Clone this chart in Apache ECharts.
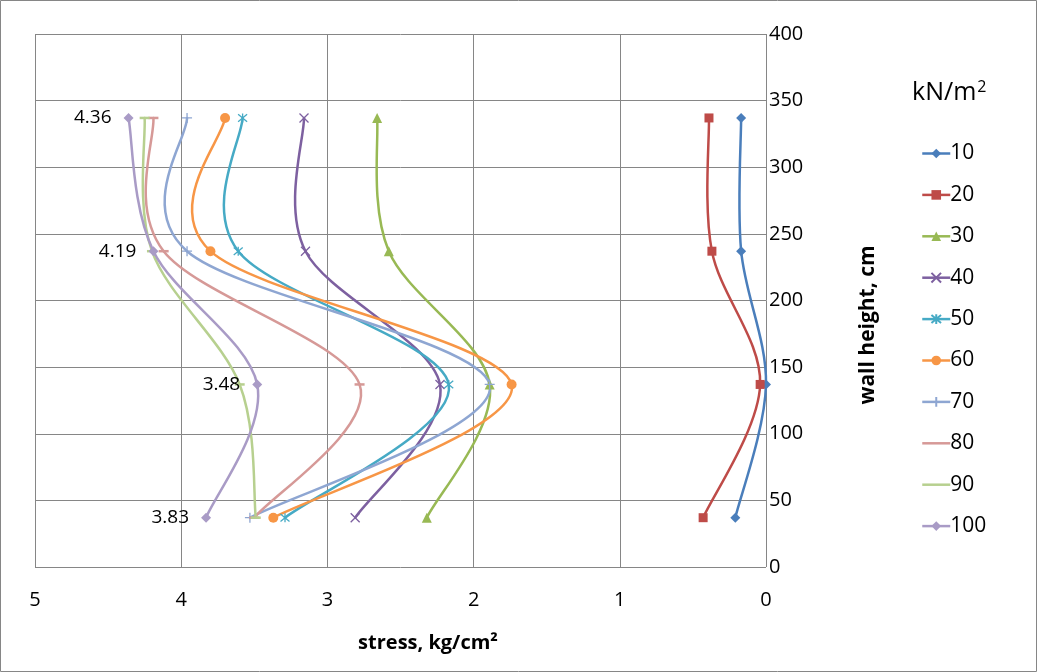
<!DOCTYPE html>
<html>
<head>
<meta charset="utf-8">
<script src="https://cdn.jsdelivr.net/npm/echarts@6/dist/echarts.min.js"></script>
<style>html,body{margin:0;padding:0;background:#fff}#c{width:1037px;height:672px}</style>
</head>
<body>
<div id="c"></div>
<script>
const heights = [37, 137, 237, 337];
const seriesNames = ['10','20','30','40','50','60','70','80','90','100'];
const s10 = [0.21, 0.0, 0.17, 0.17];
const s20 = [0.43, 0.04, 0.37, 0.39];
const s30 = [2.32, 1.89, 2.58, 2.66];
const s40 = [2.81, 2.23, 3.15, 3.16];
const s50 = [3.29, 2.17, 3.61, 3.58];
const s60 = [3.37, 1.74, 3.80, 3.70];
const s70 = [3.53, 1.89, 3.96, 3.96];
const s80 = [3.50, 2.78, 4.12, 4.19];
const s90 = [3.49, 3.60, 4.20, 4.25];
const s100 = [3.83, 3.48, 4.19, 4.36];
const xTicks = [0, 1, 2, 3, 4, 5];
const yTicks = [0, 50, 100, 150, 200, 250, 300, 350, 400];
const labelValues = ['3.83', '3.48', '4.19', '4.36'];

const allValues = [s10, s20, s30, s40, s50, s60, s70, s80, s90, s100];
const colors = ['#4A7EBB','#BE4B48','#98B954','#7D60A0','#46AAC5','#F79646','#8EA6D2','#D69997','#B7D08F','#A99BC6'];
const FONT = '"Open Sans", "Noto Sans", sans-serif';
const X_PATH = 'path://M0,0 L10,10 M10,0 L0,10';
const STAR_PATH = 'path://M0,0 L10,10 M10,0 L0,10 M5,-1 L5,11';
const PLUS_PATH = 'path://M5,0 L5,10 M0,5 L10,5';
const LINE_ICON = 'path://M0,0 L28,0 L28,2.5 L0,2.5 Z';
const markers = [
  {symbol:'diamond', size:10},
  {symbol:'rect', size:9},
  {symbol:'triangle', size:10},
  {symbol:X_PATH, size:9, stroke:true},
  {symbol:STAR_PATH, size:9, stroke:true},
  {symbol:'circle', size:10},
  {symbol:PLUS_PATH, size:10, stroke:true},
  {symbol:'rect', size:[10,2.5], plainLegend:true},
  {symbol:'rect', size:[10,2.5], plainLegend:true},
  {symbol:'diamond', size:10}
];

// Excel-like smooth curve (Catmull-Rom → cubic Bezier) drawn via the chart's own coordinate system
function makeCurveRenderer(vals, color) {
  return function (params, api) {
    if (params.dataIndex !== 0) return null;
    const pts = vals.map((v, k) => api.coord([v, heights[k]]));
    const n = pts.length;
    const P = i => pts[Math.max(0, Math.min(n - 1, i))];
    const children = [];
    for (let i = 0; i < n - 1; i++) {
      const p0 = P(i - 1), p1 = P(i), p2 = P(i + 1), p3 = P(i + 2);
      children.push({
        type: 'bezierCurve',
        shape: {
          x1: p1[0], y1: p1[1], x2: p2[0], y2: p2[1],
          cpx1: p1[0] + (p2[0] - p0[0]) / 6, cpy1: p1[1] + (p2[1] - p0[1]) / 6,
          cpx2: p2[0] - (p3[0] - p1[0]) / 6, cpy2: p2[1] - (p3[1] - p1[1]) / 6
        },
        style: {stroke: color, lineWidth: 2.5, fill: null, lineCap: 'round'}
      });
    }
    return {type: 'group', children: children};
  };
}

const series = [];
allValues.forEach((vals, i) => {
  const m = markers[i];
  series.push({
    name: 'curve' + seriesNames[i],
    type: 'custom',
    coordinateSystem: 'cartesian2d',
    data: vals.map((v, k) => [v, heights[k]]),
    encode: {x: 0, y: 1},
    renderItem: makeCurveRenderer(vals, colors[i]),
    silent: true
  });
  const s = {
    name: seriesNames[i],
    type: 'line',
    data: vals.map((v, k) => [v, heights[k]]),
    symbol: m.symbol,
    symbolSize: m.size,
    showAllSymbol: true,
    lineStyle: {color: colors[i], width: 2.5, opacity: 0},
    itemStyle: m.stroke ? {color: 'rgba(0,0,0,0)', borderColor: colors[i], borderWidth: 1.3}
                        : {color: colors[i], borderWidth: 0},
    emphasis: {disabled: true}
  };
  if (i === 9) {
    s.label = {
      show: true, position: 'left', distance: 12,
      fontFamily: FONT, fontSize: 19, color: '#000',
      formatter: p => labelValues[p.dataIndex]
    };
  }
  series.push(s);
});

const legendData = seriesNames.map((nm, i) => markers[i].plainLegend
  ? {name: nm, icon: LINE_ICON, itemStyle: {color: colors[i]}}
  : {name: nm});

const chart = echarts.init(document.getElementById('c'), null, {renderer: 'canvas'});
chart.setOption({
  animation: false,
  backgroundColor: '#fff',
  grid: {left: 35, right: 271, top: 34, bottom: 105, containLabel: false},
  xAxis: {
    type: 'value', inverse: true, min: xTicks[0], max: xTicks[xTicks.length-1], interval: 1,
    axisLine: {show: false}, axisTick: {show: false},
    splitLine: {show: true, lineStyle: {color: '#868686', width: 1}},
    axisLabel: {fontFamily: FONT, fontSize: 20, color: '#000', margin: 23}
  },
  yAxis: {
    type: 'value', position: 'right', min: yTicks[0], max: yTicks[yTicks.length-1], interval: 50,
    axisLine: {show: false}, axisTick: {show: false},
    splitLine: {show: true, lineStyle: {color: '#868686', width: 1}},
    axisLabel: {fontFamily: FONT, fontSize: 20, color: '#000', margin: 3}
  },
  legend: {
    orient: 'vertical', left: 916, top: 138,
    itemWidth: 28, itemHeight: 12, itemGap: 20.4,
    symbolKeepAspect: true,
    lineStyle: {opacity: 1, width: 2.5},
    textStyle: {fontFamily: FONT, fontSize: 21, color: '#000', lineHeight: 21, padding: [0,0,0,-5]},
    data: legendData
  },
  graphic: [
    {type: 'rect', shape: {x: 0.5, y: 0.5, width: 1036, height: 671}, style: {fill: 'none', stroke: '#868686', lineWidth: 1}, silent: true},
    {type: 'text', left: 912, top: 79, style: {
      text: 'kN/m{s|2}', fill: '#000', font: '25px ' + FONT,
      rich: {s: {fontSize: 16, fontFamily: FONT, fill: '#000', verticalAlign: 'top', padding: [0,0,12,1]}}
    }},
    {type: 'text', x: 428, y: 643, style: {text: 'stress, kg/cm²', font: 'bold 20px ' + FONT, fill: '#000', align: 'center', verticalAlign: 'middle'}},
    {type: 'text', x: 868, y: 325, rotation: Math.PI/2, style: {text: 'wall height, cm', font: 'bold 21px ' + FONT, fill: '#000', align: 'center', verticalAlign: 'middle'}}
  ],
  series: series
});
</script>
</body>
</html>
